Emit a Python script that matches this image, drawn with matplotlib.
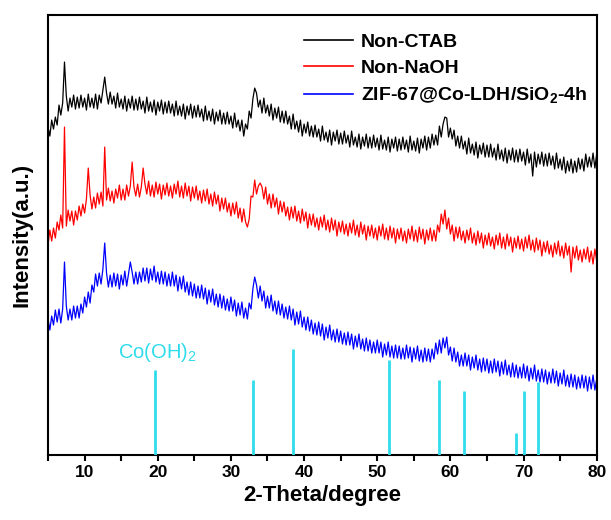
import numpy as np
import matplotlib
matplotlib.use("Agg")
import matplotlib.pyplot as plt
from matplotlib.ticker import MultipleLocator

plt.rcParams['font.family'] = ['Liberation Sans', 'DejaVu Sans']
plt.rcParams['mathtext.fontset'] = 'custom'
plt.rcParams['mathtext.rm'] = 'Liberation Sans'
plt.rcParams['mathtext.bf'] = 'Liberation Sans:bold'

# 2-theta sampling of the scans (degrees), 5 .. 80 in 0.25 steps
two_theta = np.linspace(5.0, 80.0, 301)

# intensities (arbitrary units, curves stacked)
non_ctab = [
    328, 319, 335, 326, 338, 330, 350, 340, 352, 393, 359, 344, 357, 348, 360, 346,
    358, 347, 360, 348, 357, 345, 361, 348, 357, 347, 361, 346, 360, 352, 365, 378,
    362, 351, 363, 351, 359, 347, 362, 348, 356, 346, 359, 344, 356, 347, 359, 345,
    356, 345, 358, 346, 354, 342, 358, 344, 353, 343, 355, 340, 353, 344, 355, 341,
    353, 342, 354, 342, 351, 339, 354, 340, 349, 339, 351, 336, 349, 340, 351, 337,
    349, 338, 350, 338, 346, 334, 349, 335, 344, 334, 346, 331, 343, 334, 345, 331,
    342, 331, 343, 331, 339, 327, 342, 328, 335, 324, 335, 319, 331, 326, 344, 337,
    356, 367, 362, 348, 355, 342, 357, 342, 350, 339, 351, 335, 347, 337, 348, 333,
    344, 332, 344, 331, 339, 326, 341, 326, 334, 323, 335, 319, 331, 322, 333, 319,
    329, 318, 330, 318, 326, 314, 329, 315, 323, 313, 325, 310, 323, 314, 325, 311,
    322, 311, 324, 312, 320, 308, 324, 310, 318, 308, 321, 306, 318, 309, 321, 307,
    318, 307, 320, 308, 317, 305, 320, 306, 315, 305, 318, 303, 316, 307, 318, 304,
    316, 305, 318, 306, 315, 303, 319, 305, 314, 304, 317, 302, 316, 307, 319, 305,
    318, 307, 321, 310, 320, 310, 329, 318, 331, 338, 337, 318, 327, 316, 325, 309,
    319, 307, 319, 306, 314, 301, 317, 302, 311, 300, 313, 297, 310, 301, 312, 298,
    310, 298, 311, 298, 307, 295, 311, 296, 305, 294, 307, 292, 305, 295, 307, 293,
    305, 293, 306, 294, 303, 290, 306, 292, 301, 279, 303, 288, 301, 291, 303, 289,
    301, 289, 302, 290, 299, 286, 302, 287, 296, 285, 298, 282, 294, 284, 296, 282,
    294, 283, 297, 286, 296, 284, 301, 288, 298, 288, 302, 287, 301,
]
non_naoh = [
    210, 225, 214, 227, 217, 233, 225, 240, 227, 328, 229, 245, 234, 244, 230, 244,
    235, 249, 239, 251, 242, 256, 287, 260, 246, 258, 247, 262, 251, 263, 249, 308,
    255, 267, 254, 264, 252, 266, 257, 270, 255, 266, 255, 270, 259, 269, 293, 268,
    259, 271, 258, 268, 287, 271, 261, 274, 259, 270, 258, 273, 261, 271, 256, 270,
    260, 272, 259, 269, 257, 271, 261, 274, 258, 269, 257, 272, 259, 269, 254, 268,
    257, 269, 255, 264, 252, 265, 254, 266, 251, 261, 249, 263, 251, 260, 244, 257,
    246, 257, 243, 252, 239, 252, 241, 253, 237, 247, 233, 246, 233, 228, 236, 259,
    258, 275, 261, 269, 272, 268, 256, 268, 251, 261, 247, 261, 248, 257, 241, 254,
    243, 253, 239, 248, 235, 248, 237, 249, 234, 244, 232, 246, 234, 243, 227, 241,
    230, 241, 228, 237, 225, 238, 228, 240, 225, 235, 223, 237, 225, 235, 219, 233,
    223, 234, 221, 231, 219, 232, 222, 235, 220, 230, 218, 233, 221, 230, 215, 229,
    219, 230, 217, 227, 215, 229, 219, 231, 216, 227, 215, 229, 217, 227, 212, 226,
    216, 227, 214, 224, 212, 226, 216, 229, 214, 225, 213, 228, 216, 226, 211, 225,
    215, 227, 214, 225, 214, 230, 223, 241, 231, 245, 226, 237, 221, 230, 214, 228,
    217, 228, 215, 224, 212, 225, 215, 227, 212, 222, 210, 224, 212, 222, 207, 220,
    210, 222, 209, 218, 206, 220, 210, 222, 207, 218, 206, 221, 209, 218, 203, 217,
    207, 219, 206, 216, 204, 218, 207, 220, 205, 215, 203, 217, 205, 215, 199, 213,
    203, 214, 201, 210, 198, 212, 201, 214, 199, 209, 197, 212, 200, 209, 183, 208,
    197, 209, 195, 205, 193, 206, 196, 208, 193, 204, 191, 206, 194,
]
zif67 = [
    136, 125, 139, 130, 145, 133, 146, 132, 146, 193, 149, 135, 146, 135, 149, 137,
    149, 137, 151, 142, 158, 148, 163, 152, 170, 163, 181, 169, 182, 171, 186, 212,
    182, 168, 180, 168, 182, 169, 181, 166, 180, 170, 184, 169, 181, 193, 183, 171,
    183, 171, 183, 173, 187, 174, 187, 172, 186, 175, 189, 173, 183, 171, 184, 171,
    183, 169, 181, 169, 183, 169, 180, 164, 178, 166, 179, 163, 173, 160, 173, 159,
    171, 157, 169, 157, 170, 156, 167, 151, 165, 153, 166, 150, 161, 148, 161, 147,
    159, 145, 156, 144, 158, 144, 155, 139, 152, 140, 153, 137, 147, 136, 152, 146,
    166, 178, 170, 157, 169, 154, 164, 147, 159, 147, 160, 144, 154, 141, 154, 140,
    151, 137, 148, 136, 149, 135, 146, 130, 143, 131, 144, 128, 138, 125, 138, 124,
    135, 121, 132, 120, 133, 119, 131, 115, 128, 117, 130, 115, 125, 113, 126, 113,
    124, 111, 122, 110, 123, 110, 121, 106, 119, 108, 121, 106, 116, 104, 117, 104,
    115, 102, 113, 102, 115, 102, 113, 98, 111, 100, 113, 98, 109, 97, 110, 97,
    109, 96, 107, 96, 110, 97, 108, 93, 107, 96, 109, 94, 105, 93, 107, 94,
    106, 93, 106, 96, 112, 101, 115, 102, 117, 107, 118, 100, 108, 94, 107, 93,
    103, 89, 100, 89, 102, 89, 100, 85, 98, 87, 100, 85, 96, 83, 97, 84,
    96, 82, 94, 82, 96, 83, 94, 79, 93, 81, 95, 80, 90, 78, 92, 78,
    90, 77, 88, 77, 91, 77, 89, 74, 87, 76, 90, 74, 85, 73, 86, 73,
    85, 71, 83, 72, 86, 72, 84, 69, 82, 71, 85, 69, 80, 68, 81, 68,
    80, 66, 78, 67, 80, 67, 79, 64, 78, 66, 80, 65, 76,
]

# Co(OH)2 reference pattern
ref_pos = [19.6, 33.0, 38.5, 51.6, 58.5, 61.8, 69.0, 70.1, 72.0]
ref_int = [85, 75, 106, 95, 75, 64, 22, 64, 73]

fig = plt.figure(figsize=(6.11, 5.20), dpi=100)
ax = fig.add_axes([0.0786, 0.125, 0.898, 0.846])

ax.plot(two_theta, non_ctab, color='black', lw=0.9, label='Non-CTAB')
ax.plot(two_theta, non_naoh, color='red', lw=0.9, label='Non-NaOH')
ax.plot(two_theta, zif67, color='blue', lw=0.9,
        label=r'ZIF-67@Co-LDH/SiO$_\mathbf{2}$-4h')

ax.vlines(ref_pos, 0, ref_int, color='#2fdcec', lw=2, zorder=5)
ax.text(20.0, 103, r'Co(OH)$_2$', color='#2fdcec', fontsize=14.5,
        ha='center', va='center')

ax.set_xlim(5, 80)
ax.set_ylim(0, 440)
ax.xaxis.set_major_locator(MultipleLocator(10))
ax.xaxis.set_minor_locator(MultipleLocator(5))
ax.tick_params(axis='x', which='both', direction='out', length=4, width=1.5,
               top=False, labelsize=12.5)
ax.tick_params(axis='y', left=False, labelleft=False)
for lbl in ax.get_xticklabels():
    lbl.set_fontweight('bold')
for s in ax.spines.values():
    s.set_linewidth(1.5)

ax.set_xlabel('2-Theta/degree', fontsize=16, fontweight='bold', labelpad=3)
ax.set_ylabel('Intensity(a.u.)', fontsize=16, fontweight='bold', labelpad=11)

leg = ax.legend(loc='upper right', bbox_to_anchor=(1.0, 0.98), frameon=False,
                handlelength=2.5, handletextpad=0.4, labelspacing=0.43,
                borderaxespad=0.2, borderpad=0.3,
                prop={'weight': 'bold', 'size': 14})
for line in leg.get_lines():
    line.set_linewidth(1.2)

fig.savefig('out.png', dpi=100)
